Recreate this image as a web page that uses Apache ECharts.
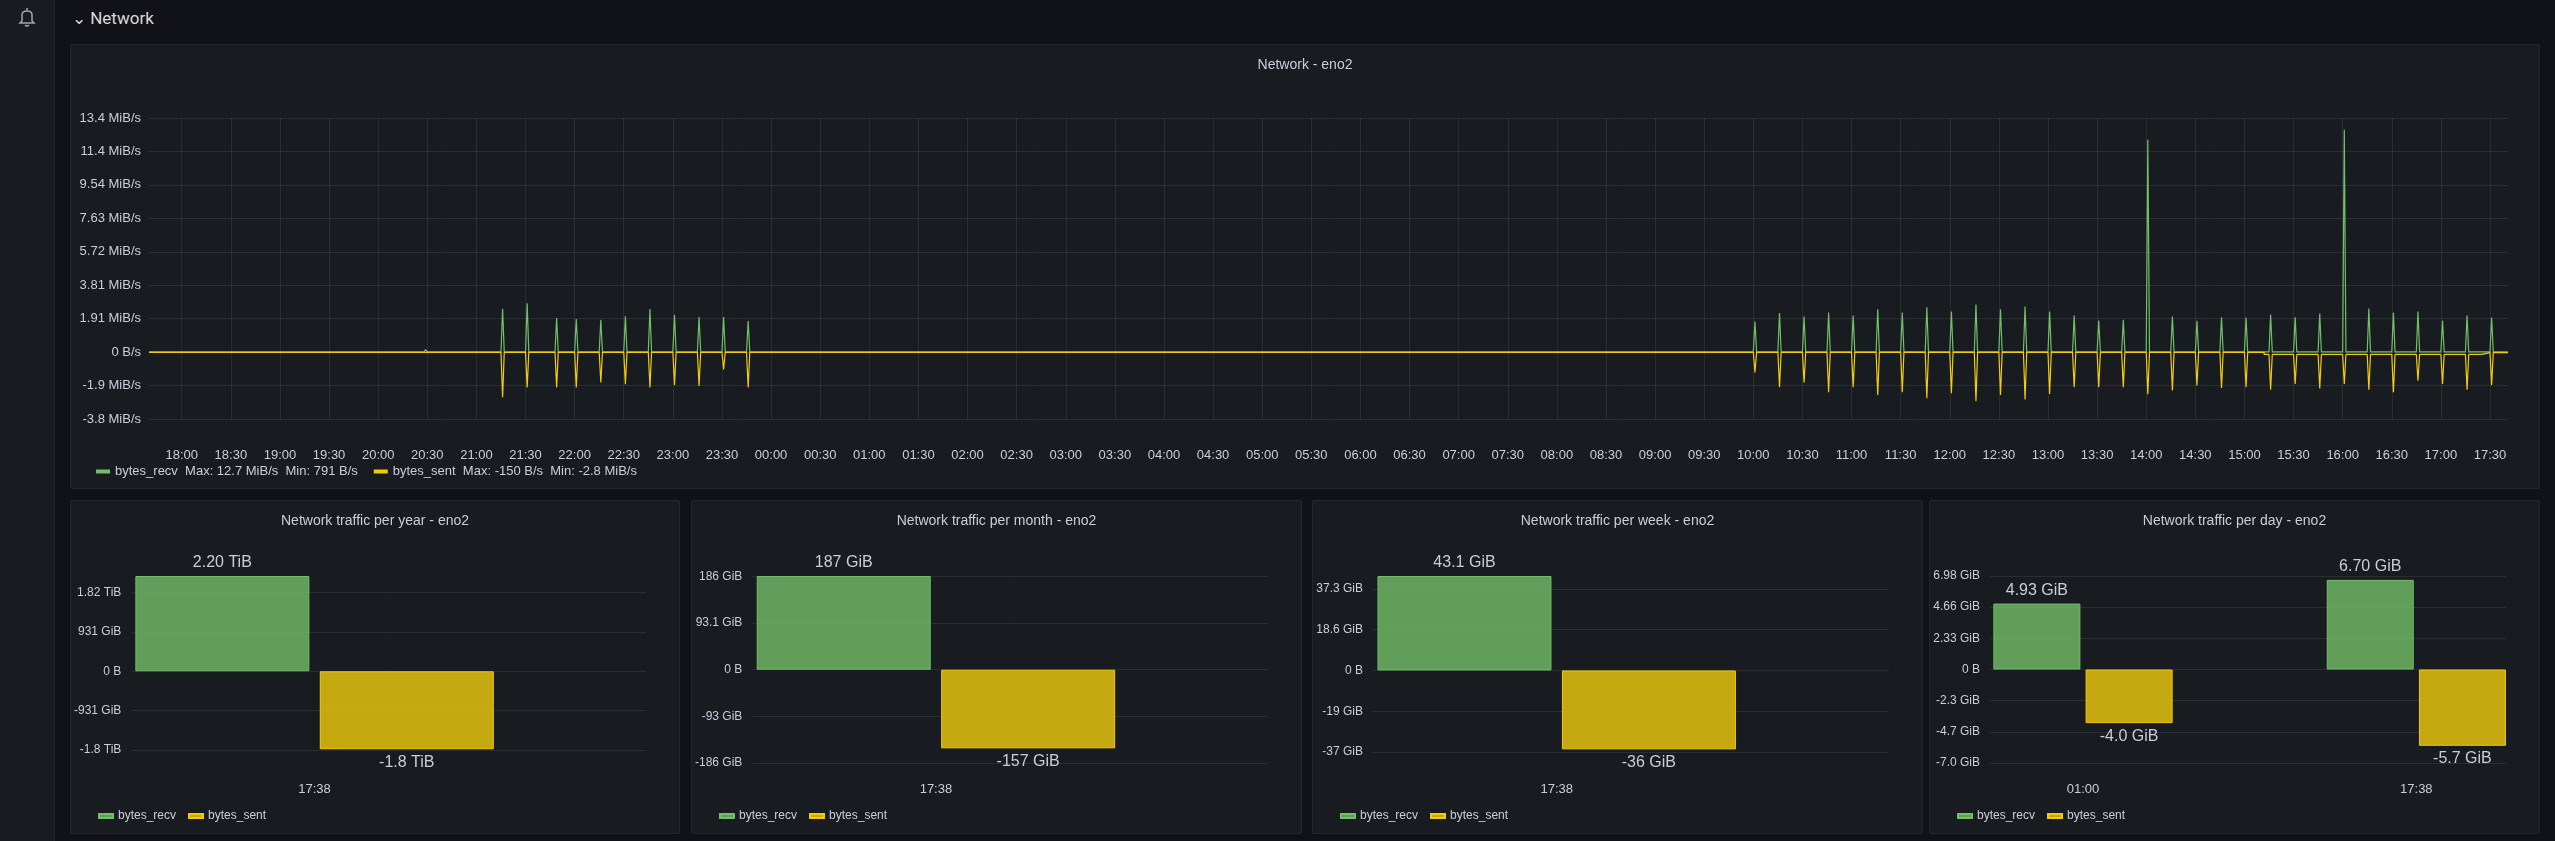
<!DOCTYPE html>
<html>
<head>
<meta charset="utf-8">
<script src="https://cdn.jsdelivr.net/npm/echarts@6.0.0/dist/echarts.min.js"></script>
<style>
  html, body { margin: 0; padding: 0; background: #111217; width: 2555px; height: 841px; overflow: hidden; font-family: Roboto, "Noto Sans", sans-serif; }
  .side { position: absolute; left: 0; top: 0; width: 54px; height: 841px; background: #181b1f; border-right: 1px solid #24262b; }
  .row { position: absolute; left: 72px; top: 8px; color: #d8d9da; font-size: 17px; }
  .panel { position: absolute; background: #181b1f; border: 1px solid #24262b; border-radius: 2px; box-sizing: border-box; }
</style>
</head>
<body>
<div class="side">
  <svg width="20" height="22" style="position:absolute;left:17px;top:6px" viewBox="0 0 20 22">
    <path d="M10 2 L10 4 M5 15 L5 9 Q5 5 10 5 Q15 5 15 9 L15 15 L17 17 L3 17 Z M8 19 Q10 21 12 19" fill="none" stroke="#9fa7b3" stroke-width="1.5"/>
  </svg>
</div>
<div class="row">&#8964; Network</div>
<div class="panel" id="top" style="left:70px;top:44px;width:2470px;height:445px"></div>
<div class="panel" id="year" style="left:70px;top:500px;width:610px;height:334px"></div>
<div class="panel" id="month" style="left:691px;top:500px;width:611px;height:334px"></div>
<div class="panel" id="week" style="left:1312px;top:500px;width:611px;height:334px"></div>
<div class="panel" id="day" style="left:1929px;top:500px;width:611px;height:334px"></div>
<script>
// ---- top chart data (values in MB/s = 1e6 B/s) ----
const recvSpikes = [
  ['20:29', 0.15],
  ['21:16', 2.57], ['21:31', 2.92], ['21:49', 2.04], ['22:01', 1.98], ['22:16', 1.94], ['22:31', 2.14],
  ['22:46', 2.57], ['23:01', 2.24], ['23:16', 2.10], ['23:31', 2.10], ['23:46', 1.86],
  ['10:01', 1.83], ['10:16', 2.33], ['10:31', 2.13], ['10:46', 2.36], ['11:01', 2.19], ['11:16', 2.56],
  ['11:31', 2.36], ['11:46', 2.68], ['12:01', 2.42], ['12:16', 2.84], ['12:31', 2.56], ['12:46', 2.72],
  ['13:01', 2.42], ['13:16', 2.19], ['13:31', 1.89], ['13:46', 1.93], ['14:01', 12.70], ['14:16', 2.13],
  ['14:31', 1.87], ['14:46', 2.09], ['15:01', 2.07], ['15:16', 2.25], ['15:31', 2.09], ['15:46', 2.31],
  ['16:01', 13.30], ['16:16', 2.60], ['16:31', 2.36], ['16:46', 2.42], ['17:01', 1.89], ['17:16', 2.19],
  ['17:31', 2.07]
];
const sentSpikes = [
  ['21:16', -2.70], ['21:31', -2.12], ['21:49', -2.12], ['22:01', -2.12], ['22:16', -1.82], ['22:31', -1.92],
  ['22:46', -2.12], ['23:01', -1.96], ['23:16', -2.02], ['23:31', -1.04], ['23:46', -2.12],
  ['10:01', -1.22], ['10:16', -2.10], ['10:31', -1.81], ['10:46', -2.40], ['11:01', -2.10], ['11:16', -2.56],
  ['11:31', -2.40], ['11:46', -2.76], ['12:01', -2.46], ['12:16', -2.94], ['12:31', -2.56], ['12:46', -2.84],
  ['13:01', -2.50], ['13:16', -2.10], ['13:31', -2.10], ['13:46', -2.10], ['14:01', -2.52], ['14:16', -2.30],
  ['14:31', -2.00], ['14:46', -2.15], ['15:01', -2.10], ['15:16', -2.25], ['15:31', -1.91], ['15:46', -2.17],
  ['16:01', -1.91], ['16:16', -2.25], ['16:31', -2.40], ['16:46', -1.71], ['17:01', -1.91], ['17:16', -2.25],
  ['17:31', -1.97]
];
// baseline levels: [from time, level]
const recvBase = [['17:40', 0.01]];
const sentBase = [['17:40', -0.01], ['15:12', -0.14], ['17:25', -0.03]];
const topTimeTicks = ['18:00', '18:30', '19:00', '19:30', '20:00', '20:30', '21:00', '21:30', '22:00', '22:30',
  '23:00', '23:30', '00:00', '00:30', '01:00', '01:30', '02:00', '02:30', '03:00', '03:30', '04:00', '04:30',
  '05:00', '05:30', '06:00', '06:30', '07:00', '07:30', '08:00', '08:30', '09:00', '09:30', '10:00', '10:30',
  '11:00', '11:30', '12:00', '12:30', '13:00', '13:30', '14:00', '14:30', '15:00', '15:30', '16:00', '16:30',
  '17:00', '17:30'];
const topTicks = [-4, -2, 0, 2, 4, 6, 8, 10, 12, 14];
const topTickLabels = ['-3.8 MiB/s', '-1.9 MiB/s', '0 B/s', '1.91 MiB/s', '3.81 MiB/s', '5.72 MiB/s',
  '7.63 MiB/s', '9.54 MiB/s', '11.4 MiB/s', '13.4 MiB/s'];
const seriesNames = ['bytes_recv', 'bytes_sent'];
const topStats = ['Max: 12.7 MiB/s  Min: 791 B/s', 'Max: -150 B/s  Min: -2.8 MiB/s'];

// ---- bar panels (values in units of each panel's tick step base) ----
const yearRecv = [2.42], yearSent = [-1.98], yearTimes = ['17:38'];
const yearRecvLabels = ['2.20 TiB'], yearSentLabels = ['-1.8 TiB'];
const yearTicks = [-2, -1, 0, 1, 2];
const yearTickLabels = ['-1.8 TiB', '-931 GiB', '0 B', '931 GiB', '1.82 TiB'];

const monthRecv = [2.01], monthSent = [-1.686], monthTimes = ['17:38'];
const monthRecvLabels = ['187 GiB'], monthSentLabels = ['-157 GiB'];
const monthTicks = [-2, -1, 0, 1, 2];
const monthTickLabels = ['-186 GiB', '-93 GiB', '0 B', '93.1 GiB', '186 GiB'];

const weekRecv = [4.63], weekSent = [-3.87], weekTimes = ['17:38'];
const weekRecvLabels = ['43.1 GiB'], weekSentLabels = ['-36 GiB'];
const weekTicks = [-4, -2, 0, 2, 4];
const weekTickLabels = ['-37 GiB', '-19 GiB', '0 B', '18.6 GiB', '37.3 GiB'];

const dayRecv = [5.29, 7.19], daySent = [-4.30, -6.12], dayTimes = ['01:00', '17:38'];
const dayRecvLabels = ['4.93 GiB', '6.70 GiB'], daySentLabels = ['-4.0 GiB', '-5.7 GiB'];
const dayTicks = [-7.5, -5, -2.5, 0, 2.5, 5, 7.5];
const dayTickLabels = ['-7.0 GiB', '-4.7 GiB', '-2.3 GiB', '0 B', '2.33 GiB', '4.66 GiB', '6.98 GiB'];

const GREEN = '#73BF69', YELLOW = '#F2CC0C', TEXT = '#ccccdc', GRID = 'rgba(204,204,220,0.10)';

// minutes since 18:00 on the first day
function toMin(hhmm) {
  const [h, m] = hhmm.split(':').map(Number);
  const nextDay = h < 17 || (h === 17 && m < 40);
  return (nextDay ? 24 * 60 : 0) + h * 60 + m - 18 * 60;
}
const tStart = toMin('17:40'), tEnd = toMin('17:40') + 24 * 60 + 1;
const tickMins = topTimeTicks.map(toMin);

function levelAt(base, t) {
  let v = base[0][1], best = -Infinity;
  base.forEach(([s, l]) => { const ts = toMin(s); if (ts <= t && ts > best) { best = ts; v = l; } });
  return v;
}
function buildLine(spikes, base) {
  const pts = [[tStart, levelAt(base, tStart)]];
  base.slice(1).forEach(([s]) => {
    const ts = toMin(s);
    pts.push([ts - 0.01, levelAt(base, ts - 0.01)], [ts, levelAt(base, ts)]);
  });
  spikes.forEach(([s, v]) => {
    const ts = toMin(s);
    pts.push([ts - 1, levelAt(base, ts - 1)], [ts, v], [ts + 1, levelAt(base, ts + 1)]);
  });
  pts.push([tEnd, levelAt(base, tEnd)]);
  return pts.sort((a, b) => a[0] - b[0]);
}

const topChart = echarts.init(document.getElementById('top'));
topChart.setOption({
  animation: false,
  title: { text: 'Network - eno2', left: 'center', top: 8, textStyle: { color: TEXT, fontSize: 14, fontWeight: 500 } },
  grid: { left: 78, right: 31, top: 73, bottom: 69 },
  legend: {
    left: 20, bottom: 5, itemWidth: 14, itemHeight: 4, itemGap: 16,
    icon: 'rect', textStyle: { color: TEXT, fontSize: 13 },
    formatter: n => n + '  ' + topStats[seriesNames.indexOf(n)]
  },
  xAxis: {
    type: 'value', min: tStart, max: tEnd,
    axisLine: { show: false },
    axisTick: { show: false, customValues: tickMins },
    axisLabel: { color: TEXT, fontSize: 13, margin: 30, customValues: tickMins,
      formatter: v => topTimeTicks[tickMins.indexOf(v)] },
    splitLine: { show: true, lineStyle: { color: GRID } }
  },
  yAxis: {
    type: 'value', min: -4, max: 14, interval: 2,
    axisLine: { show: false }, axisTick: { show: false },
    axisLabel: { color: TEXT, fontSize: 13, margin: 8, formatter: v => topTickLabels[topTicks.indexOf(v)] },
    splitLine: { lineStyle: { color: GRID } }
  },
  series: [
    { name: seriesNames[0], type: 'line', showSymbol: false, data: buildLine(recvSpikes, recvBase),
      lineStyle: { width: 1.2, color: GREEN }, itemStyle: { color: GREEN } },
    { name: seriesNames[1], type: 'line', showSymbol: false, data: buildLine(sentSpikes, sentBase),
      lineStyle: { width: 1.2, color: YELLOW }, itemStyle: { color: YELLOW } }
  ]
});

function barPanel(id, title, times, recv, sent, recvLabels, sentLabels, ticks, tickLabels, xMin, xMax, bottom, barWidth) {
  const chart = echarts.init(document.getElementById(id));
  const step = ticks[1] - ticks[0];
  const yMax = Math.max(...recv, ticks[ticks.length - 1]);
  const xs = times.map((t, i) => i);
  const maxOnTick = ticks.indexOf(yMax) >= 0;
  const lbl = { show: true, color: TEXT, fontSize: 16 };
  chart.setOption({
    animation: false,
    title: { text: title, left: 'center', top: 8, textStyle: { color: TEXT, fontSize: 14, fontWeight: 500 } },
    grid: { left: 60, right: 33, top: 75, bottom: bottom },
    legend: { left: 22, bottom: 6, itemWidth: 14, itemHeight: 4, itemGap: 12, icon: 'rect', textStyle: { color: TEXT, fontSize: 12 } },
    xAxis: {
      type: 'value', min: xMin, max: xMax,
      axisLine: { show: false }, axisTick: { show: false }, splitLine: { show: false },
      axisLabel: { color: TEXT, fontSize: 13, margin: bottom - 50, customValues: xs, formatter: v => times[Math.round(v)] }
    },
    yAxis: {
      type: 'value', min: ticks[0], max: yMax, interval: step,
      axisLine: { show: false }, axisTick: { show: false },
      axisLabel: { color: TEXT, fontSize: 12, margin: 10, showMaxLabel: maxOnTick,
        formatter: v => { const i = ticks.indexOf(v); return i >= 0 ? tickLabels[i] : ''; } },
      splitLine: { showMaxLine: maxOnTick, lineStyle: { color: GRID } }
    },
    series: [
      { name: seriesNames[0], type: 'bar', barWidth: barWidth, barGap: '6%',
        data: recv.map((v, i) => [xs[i], v]),
        itemStyle: { color: 'rgba(115,191,105,0.8)', borderColor: GREEN, borderWidth: 1 },
        label: Object.assign({ position: 'top', formatter: p => recvLabels[p.dataIndex] }, lbl) },
      { name: seriesNames[1], type: 'bar', barWidth: barWidth, barGap: '6%',
        data: sent.map((v, i) => [xs[i], v]),
        itemStyle: { color: 'rgba(242,204,12,0.8)', borderColor: YELLOW, borderWidth: 1 },
        label: Object.assign({ position: 'bottom', formatter: p => sentLabels[p.dataIndex] }, lbl) }
    ]
  });
}

barPanel('year', 'Network traffic per year - eno2', yearTimes, yearRecv, yearSent, yearRecvLabels, yearSentLabels,
  yearTicks, yearTickLabels, -0.356, 0.644, 83, 174);
barPanel('month', 'Network traffic per month - eno2', monthTimes, monthRecv, monthSent, monthRecvLabels, monthSentLabels,
  monthTicks, monthTickLabels, -0.356, 0.644, 70, 174);
barPanel('week', 'Network traffic per week - eno2', weekTimes, weekRecv, weekSent, weekRecvLabels, weekSentLabels,
  weekTicks, weekTickLabels, -0.356, 0.644, 81, 174);
barPanel('day', 'Network traffic per day - eno2', dayTimes, dayRecv, daySent, dayRecvLabels, daySentLabels,
  dayTicks, dayTickLabels, -0.279, 1.269, 70, 87);
</script>
</body>
</html>
